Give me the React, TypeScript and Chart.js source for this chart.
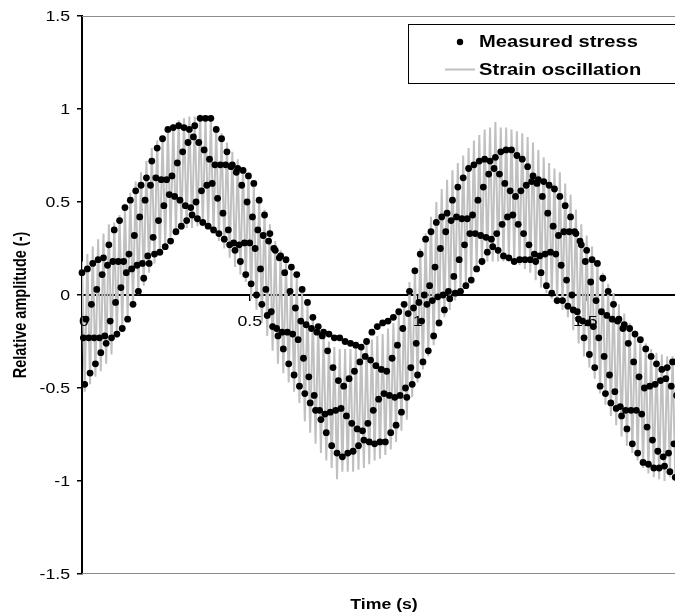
import React, { useEffect, useRef } from "react";
import { Chart, registerables } from "chart.js";

Chart.register(...registerables);

// ---- data ----
const SAMPLE_DT = 0.004; // s between stress samples
const STRAIN_DT = 0.008; // s between strain turning points

const seriesLabels = ["Measured stress", "Strain oscillation"];
const xTitle = "Time (s)";
const yTitle = "Relative amplitude (-)";
const xRange = [0, 1.8];
const yRange = [-1.5, 1.5];
const tickStep = 0.5;

const stressSegA = [
  0.12, -0.23, -0.48, -0.13, 0.14, -0.23, -0.42, -0.05, 0.17, -0.23, -0.37, 0.03,
  0.19, -0.23, -0.31, 0.11, 0.2, -0.22, -0.26, 0.16, 0.27, -0.14, -0.23, 0.18,
  0.35, -0.04, -0.21, 0.18, 0.4, 0.04, -0.18, 0.18, 0.47, 0.12, -0.13, 0.22,
  0.51, 0.14, -0.05, 0.32, 0.56, 0.16, 0.02, 0.42, 0.59, 0.17, 0.09, 0.51,
  0.63, 0.21, 0.17, 0.59, 0.72, 0.31, 0.22, 0.63, 0.79, 0.4, 0.23, 0.62,
  0.84, 0.48, 0.26, 0.62, 0.89, 0.54, 0.29, 0.64, 0.9, 0.53, 0.34, 0.71,
  0.91, 0.51, 0.37, 0.77, 0.9, 0.48, 0.4, 0.82, 0.89, 0.47, 0.43, 0.85,
  0.91, 0.5, 0.41, 0.82, 0.95, 0.56, 0.39, 0.78, 0.95, 0.59, 0.37, 0.73,
  0.95, 0.6, 0.35, 0.7, 0.89, 0.52, 0.33, 0.7, 0.84, 0.44, 0.3, 0.7,
  0.77, 0.35, 0.27, 0.69,
];
const stressSegB = [
  0.7, 0.28, 0.24, 0.66, 0.68, 0.27, 0.18, 0.59, 0.67, 0.28, 0.11, 0.5,
  0.64, 0.28, 0.06, 0.42, 0.6, 0.25, 0.0, 0.35, 0.51, 0.14, -0.05, 0.32,
  0.43, 0.03, -0.11, 0.29, 0.33, -0.09, -0.17, 0.25, 0.24, -0.18, -0.22, 0.2,
  0.21, -0.2, -0.29, 0.12, 0.19, -0.2, -0.37, 0.02, 0.15, -0.21, -0.43, -0.07,
  0.11, -0.24, -0.49, -0.14, 0.03, -0.34, -0.53, -0.16, -0.04, -0.44, -0.58, -0.18,
  -0.12, -0.54, -0.62, -0.2, -0.17, -0.62, -0.67, -0.22, -0.2, -0.64, -0.74, -0.3,
  -0.21, -0.63, -0.81, -0.39, -0.23, -0.62, -0.85, -0.46, -0.23, -0.61, -0.87, -0.49,
  -0.25, -0.65, -0.85, -0.45, -0.26, -0.69, -0.84, -0.41, -0.27, -0.72, -0.81, -0.36,
  -0.28, -0.73, -0.78, -0.33, -0.25, -0.69, -0.79, -0.35, -0.2, -0.62, -0.8, -0.38,
  -0.17, -0.56, -0.79, -0.4,
];
const stressSegC = [
  -0.15, -0.53, -0.79, -0.41, -0.14, -0.54, -0.74, -0.34, -0.12, -0.55, -0.7, -0.27,
  -0.09, -0.54, -0.63, -0.18, -0.05, -0.5, -0.55, -0.1, 0.02, -0.39, -0.48, -0.07,
  0.13, -0.26, -0.43, -0.04, 0.22, -0.14, -0.36, 0.0, 0.3, -0.05, -0.3, 0.05,
  0.34, -0.03, -0.22, 0.15, 0.39, -0.01, -0.15, 0.25, 0.42, 0.0, -0.08, 0.34,
  0.44, 0.02, -0.02, 0.4, 0.51, 0.1, 0.01, 0.42, 0.58, 0.19, 0.02, 0.41,
  0.63, 0.27, 0.05, 0.41, 0.68, 0.33, 0.08, 0.43, 0.7, 0.33, 0.14, 0.51,
  0.72, 0.32, 0.18, 0.58, 0.73, 0.31, 0.23, 0.65, 0.72, 0.3, 0.26, 0.68,
  0.74, 0.33, 0.24, 0.65, 0.77, 0.38, 0.21, 0.6, 0.78, 0.42, 0.2, 0.56,
  0.78, 0.43, 0.18, 0.53, 0.75, 0.38, 0.19, 0.56, 0.73, 0.33, 0.19, 0.59,
  0.69, 0.27, 0.19, 0.61,
];
const stressSegD = [
  0.64, 0.22, 0.18, 0.6, 0.62, 0.21, 0.12, 0.53, 0.61, 0.22, 0.05, 0.44,
  0.59, 0.23, 0.01, 0.37, 0.57, 0.22, -0.03, 0.32, 0.53, 0.16, -0.03, 0.34,
  0.48, 0.08, -0.06, 0.34, 0.42, 0.0, -0.08, 0.34, 0.33, -0.09, -0.13, 0.29,
  0.27, -0.14, -0.23, 0.18, 0.24, -0.15, -0.32, 0.07, 0.19, -0.17, -0.39, -0.03,
  0.17, -0.23, -0.49, -0.09, 0.09, -0.33, -0.53, -0.11, 0.02, -0.43, -0.58, -0.13,
  -0.05, -0.52, -0.61, -0.14, -0.13, -0.6, -0.65, -0.18, -0.16, -0.62, -0.72, -0.26,
  -0.18, -0.62, -0.8, -0.36, -0.21, -0.62, -0.85, -0.44, -0.24, -0.64, -0.9, -0.5,
  -0.29, -0.71, -0.91, -0.49, -0.33, -0.78, -0.93, -0.48, -0.37, -0.84, -0.93, -0.46,
  -0.4, -0.87, -0.92, -0.45, -0.39, -0.85, -0.95, -0.49, -0.36, -0.8, -0.98, -0.54,
  -0.35, -0.76, -0.99, -0.58,
];

const strainSegA = [
  0.18, -0.52, 0.22, -0.48, 0.26, -0.44, 0.3, -0.41, 0.33, -0.37, 0.38, -0.32,
  0.39, -0.23, 0.43, -0.18, 0.49, -0.12, 0.55, -0.06, 0.61, 0.0, 0.66, 0.05,
  0.72, 0.12, 0.79, 0.17, 0.83, 0.21, 0.85, 0.27, 0.89, 0.31, 0.92, 0.33,
  0.94, 0.35, 0.95, 0.36, 0.96, 0.36, 0.96, 0.37, 0.97, 0.37, 0.96, 0.36,
  0.95, 0.33, 0.91, 0.29, 0.87, 0.25, 0.82, 0.2, 0.77, 0.15, 0.73, 0.11,
  0.69, 0.07, 0.65, -0.02, 0.6, -0.08, 0.53, -0.15, 0.46, -0.22, 0.38, -0.3,
  0.29, -0.37, 0.24, -0.42, 0.19, -0.47, 0.14, -0.52, 0.09, -0.58, 0.01, -0.68,
  -0.05, -0.74, -0.11, -0.8, -0.16, -0.85, -0.21, -0.89, -0.25, -0.93, -0.28, -0.99,
  -0.29, -0.95, -0.29, -0.95, -0.29, -0.95, -0.28, -0.94, -0.27, -0.93, -0.26, -0.91,
  -0.24, -0.89, -0.22, -0.88,
];
const strainSegB = [
  -0.21, -0.86, -0.18, -0.83, -0.15, -0.79, -0.1, -0.73, -0.04, -0.67, 0.07, -0.55,
  0.15, -0.47, 0.25, -0.4, 0.33, -0.33, 0.42, -0.27, 0.5, -0.17, 0.57, -0.12,
  0.62, -0.08, 0.67, -0.03, 0.71, 0.01, 0.75, 0.05, 0.79, 0.09, 0.83, 0.13,
  0.86, 0.16, 0.89, 0.18, 0.9, 0.18, 0.93, 0.18, 0.9, 0.18, 0.9, 0.18,
  0.89, 0.17, 0.88, 0.16, 0.87, 0.14, 0.85, 0.12, 0.82, 0.08, 0.78, 0.04,
  0.74, 0.01, 0.71, -0.02, 0.68, -0.05, 0.66, -0.08, 0.6, -0.12, 0.54, -0.19,
  0.46, -0.26, 0.38, -0.33, 0.32, -0.39, 0.26, -0.45, 0.18, -0.53, 0.12, -0.59,
  0.06, -0.65, 0.01, -0.7, -0.05, -0.76, -0.1, -0.81, -0.15, -0.85, -0.19, -0.89,
  -0.23, -0.93, -0.26, -0.96, -0.29, -0.98, -0.31, -0.99, -0.32, -1.0, -0.33, -0.98,
  -0.33, -0.98, -0.33, -0.99,
];

// ---- styling helpers ----
const FONT = '"Liberation Sans", Arial, Helvetica, sans-serif';
const SX = 1.22; // horizontal stretch of the reference's lettering

function drawText(
  ctx: CanvasRenderingContext2D,
  text: string,
  x: number,
  y: number,
  align: CanvasTextAlign,
  font: string,
  rotate = false
) {
  ctx.save();
  ctx.font = font;
  ctx.textAlign = align;
  ctx.fillStyle = "#000";
  ctx.translate(x, y);
  if (rotate) {
    ctx.rotate(-Math.PI / 2);
    ctx.textBaseline = "middle";
    ctx.scale(1, SX);
  } else {
    ctx.textBaseline = "alphabetic";
    ctx.scale(SX, 1);
  }
  ctx.fillText(text, 0, 0);
  ctx.restore();
}

const fmt = (v: number) => String(Math.round(v * 100) / 100);

const decorPlugin = {
  id: "decor",
  beforeDatasetsDraw(chart: any) {
    const { ctx, chartArea: ca } = chart;
    ctx.save();
    ctx.strokeStyle = "#8c8c8c";
    ctx.lineWidth = 1;
    ctx.beginPath();
    ctx.moveTo(ca.left, ca.top + 0.5);
    ctx.lineTo(ca.right, ca.top + 0.5);
    ctx.moveTo(ca.left, ca.bottom - 0.5);
    ctx.lineTo(ca.right, ca.bottom - 0.5);
    ctx.stroke();
    ctx.restore();
  },
  afterDraw(chart: any) {
    const { ctx, chartArea: ca, scales } = chart;
    const tickFont = `14.5px ${FONT}`;
    const boldFont = `bold 14.5px ${FONT}`;
    const legendFont = `bold 16.5px ${FONT}`;

    // y tick labels
    scales.y.ticks.forEach((t: any) => {
      const py = scales.y.getPixelForValue(t.value);
      drawText(ctx, fmt(t.value), 70, py + 5.3, "right", tickFont);
    });
    // x tick labels (below the zero line)
    const zeroY = scales.y.getPixelForValue(0);
    scales.x.ticks.forEach((t: any) => {
      if (t.value > 1.75) return;
      const px = scales.x.getPixelForValue(t.value);
      drawText(ctx, fmt(t.value), px + (t.value === 0 ? 2 : 0), zeroY + 30.5, "center", tickFont);
    });
    // axis titles
    drawText(ctx, xTitle, (ca.left + ca.right) / 2, 608.5, "center", boldFont);
    drawText(ctx, yTitle, 21, 305, "center", boldFont, true);

    // legend box
    const ds = chart.data.datasets;
    ctx.save();
    ctx.fillStyle = "#fff";
    ctx.fillRect(408.5, 24.5, 330, 59);
    ctx.strokeStyle = "#000";
    ctx.lineWidth = 1;
    ctx.strokeRect(408.5, 24.5, 330, 59);
    ctx.fillStyle = ds[0].backgroundColor;
    ctx.beginPath();
    ctx.arc(460, 42, 3.2, 0, Math.PI * 2);
    ctx.fill();
    ctx.strokeStyle = ds[1].borderColor;
    ctx.lineWidth = 2;
    ctx.beginPath();
    ctx.moveTo(445, 69.5);
    ctx.lineTo(475, 69.5);
    ctx.stroke();
    ctx.restore();
    drawText(ctx, ds[0].label, 479, 46.5, "left", legendFont);
    drawText(ctx, ds[1].label, 479, 75, "left", legendFont);
  },
};

export default function App() {
  const canvasRef = useRef<HTMLCanvasElement | null>(null);

  useEffect(() => {
    if (!canvasRef.current) return;
    const stressValues = [...stressSegA, ...stressSegB, ...stressSegC, ...stressSegD];
    const strainValues = [...strainSegA, ...strainSegB];
    const stressPoints = stressValues.map((y, i) => ({ x: i * SAMPLE_DT, y }));
    const strainPoints = strainValues.map((y, i) => ({ x: i * STRAIN_DT, y }));

    const chart = new Chart(canvasRef.current, {
      type: "scatter",
      data: {
        datasets: [
          {
            label: seriesLabels[0],
            data: stressPoints,
            showLine: false,
            pointRadius: 3.4,
            pointBorderWidth: 0,
            backgroundColor: "#000",
            borderColor: "#000",
            order: 0,
            clip: 8,
          } as any,
          {
            label: seriesLabels[1],
            data: strainPoints,
            showLine: true,
            pointRadius: 0,
            borderColor: "#c0c0c0",
            backgroundColor: "#c0c0c0",
            borderWidth: 2,
            tension: 0,
            order: 1,
          } as any,
        ],
      },
      options: {
        responsive: false,
        animation: false,
        devicePixelRatio: 1,
        events: [],
        layout: { padding: { left: 0, right: 14, top: 16, bottom: 42 } },
        plugins: {
          legend: { display: false },
          tooltip: { enabled: false },
          title: { display: false },
        },
        scales: {
          x: {
            type: "linear",
            min: xRange[0],
            max: xRange[1],
            position: { y: 0 } as any,
            ticks: { display: false, stepSize: tickStep },
            grid: {
              drawOnChartArea: false,
              drawTicks: true,
              tickLength: 5,
              color: "#000",
              lineWidth: 1.5,
            },
            border: { display: true, color: "#000", width: 2 },
          },
          y: {
            type: "linear",
            min: yRange[0],
            max: yRange[1],
            position: "left",
            ticks: { display: false, stepSize: tickStep },
            grid: {
              drawOnChartArea: false,
              drawTicks: true,
              tickLength: 5,
              color: "#000",
              lineWidth: 1.5,
            },
            border: { display: true, color: "#000", width: 2 },
            afterFit: (scale: any) => {
              scale.width = 82;
            },
          },
        },
      },
      plugins: [decorPlugin],
    });
    return () => chart.destroy();
  }, []);

  return (
    <div
      style={{
        position: "fixed",
        left: 0,
        top: 0,
        width: 675,
        height: 616,
        overflow: "hidden",
        background: "#fff",
      }}
    >
      <canvas ref={canvasRef} width={700} height={616} style={{ display: "block" }} />
    </div>
  );
}
